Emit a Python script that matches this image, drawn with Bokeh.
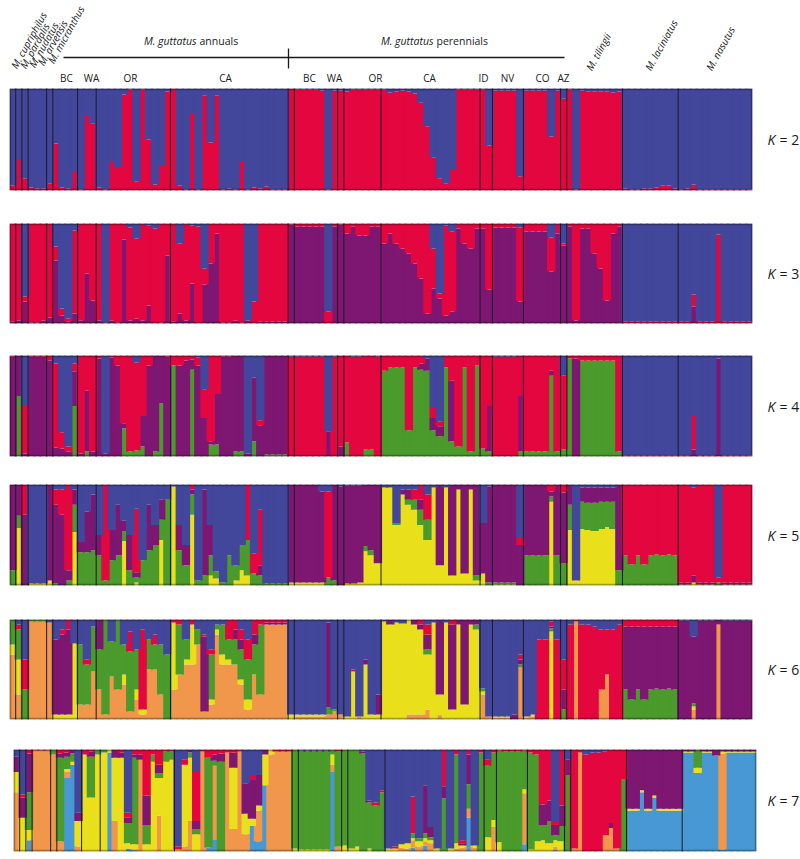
from bokeh.plotting import figure
from bokeh.models import Range1d, ColumnDataSource, BoxAnnotation
from bokeh.layouts import column, row
from bokeh.embed import file_html
from bokeh.resources import INLINE
from bokeh.core.properties import value
import math

# ---------------- data ----------------
GROUP_NAMES = ["M. cupriphilus", "M. pardalis", "M. nudatus", "M. arvensis", "M. micranthus",
               "BC-a", "WA-a", "OR-a", "CA-a", "X", "BC-p", "WA-p", "OR-p", "CA-p", "ID", "NV",
               "CO", "AZ", "M. tilingii", "M. laciniatus", "M. nasutus"]
GROUP_SIZES = [1, 1, 1, 3, 1, 4, 3, 12, 19, 1, 7, 1, 6, 16, 2, 5, 6, 1, 9, 9, 12]

TOP_SPECIES = ["M. cupriphilus", "M. pardalis", "M. nudatus", "M. arvensis", "M. micranthus",
               "M. tilingii", "M. laciniatus", "M. nasutus"]
REGION_LABELS = ["BC", "WA", "OR", "CA", "BC", "WA", "OR", "CA", "ID", "NV", "CO", "AZ"]

# K = 2 : red, blue (bottom -> top)
K2_red = [5,30,12, 3,2,2, 7, 46,3,2,19, 1,73,66,
 3,1,29,23,94,99,9,99,50,6,25,97,
 100,5,1,76,1,93,47,93,1,2,1,29,1,3,2,4,1,1,1,
 100,
 99,99,99,99,98,1,98,
 98,
 97,99,99,99,99,99,
 99,96,97,98,97,95,86,63,32,12,7,20,99,99,99,99,
 99,44,
 98,98,98,98,14,
 98,98,98,98,53,98,
 90,
 99,1,98,97,97,97,97,96,97,
 2,1,1,2,2,3,5,5,2,
 1,2,6,1,1,1,1,1,1,1,1,1]
K2_blue = [95,70,88, 97,98,98, 93, 54,97,98,81, 99,27,34,
 97,99,71,77,6,1,91,1,50,94,75,3,
 0,95,99,24,99,7,53,7,99,98,99,71,99,97,98,96,99,99,99,
 0,
 1,1,1,1,2,99,2,
 2,
 3,1,1,1,1,1,
 1,4,3,2,3,5,14,37,68,88,93,80,1,1,1,1,
 1,56,
 2,2,2,2,86,
 2,2,2,2,47,2,
 10,
 1,99,2,3,3,3,3,4,3,
 98,99,99,98,98,97,95,95,98,
 99,98,94,99,99,99,99,99,99,99,99,99]

# K = 3 : purple, red, blue
K3_purple = [2,3,22, 1,1,3, 6, 63,8,2,10, 3,50,23,
 3,1,3,1,84,3,5,3,18,0,1,68,
 2,10,3,40,0,39,60,90,1,1,3,1,3,0,2,2,2,2,2,
 99,
 97,97,97,97,97,0,97,
 99,
 90,97,88,88,97,97,
 80,90,80,75,70,60,45,10,35,25,8,12,95,80,75,95,
 95,34,
 96,96,96,96,22,
 92,92,92,92,52,90,
 78,
 97,3,95,95,70,55,23,90,97,
 0,0,0,0,0,0,0,0,0,
 0,0,17,0,0,0,0,0,0,0,0,0]
K3_red = [98,97,5, 99,99,97, 94, 14,7,3,83, 97,50,77,
 97,0,97,99,16,93,80,97,80,95,99,32,
 98,70,97,58,97,16,40,10,99,99,97,99,0,22,98,98,98,98,98,
 1,
 3,3,3,3,3,12,3,
 1,
 10,3,12,12,3,3,
 20,10,20,25,30,40,55,90,40,5,90,80,5,20,25,5,
 5,66,
 4,4,4,4,74,
 8,8,8,8,34,10,
 2,
 3,97,5,5,30,45,77,10,3,
 2,2,2,2,2,2,2,2,2,
 2,2,12,2,2,2,89,2,2,2,2,2]
K3_blue = [0,0,73, 0,0,0, 0, 23,85,95,7, 0,0,0,
 0,99,0,0,0,4,15,0,2,5,0,0,
 0,20,0,2,3,45,0,0,0,0,0,0,97,78,0,0,0,0,0,
 0,
 0,0,0,0,0,88,0,
 0,
 0,0,0,0,0,0,
 0,0,0,0,0,0,0,0,25,70,2,8,0,0,0,0,
 0,0,
 0,0,0,0,4,
 0,0,0,0,14,0,
 20,
 0,0,0,0,0,0,0,0,0,
 98,98,98,98,98,98,98,98,98,
 98,98,71,98,98,98,11,98,98,98,98,98]

# K = 4 : green, purple, red, blue
K4_green = [0,60,0, 0,0,0, 0, 0,0,0,50, 0,5,0,
 0,0,0,0,28,5,6,10,0,5,53,0,
 90,0,0,86,0,0,12,12,0,0,5,5,0,15,0,2,2,2,2,
 0,
 0,0,0,0,0,0,0,
 0,
 14,0,0,7,7,0,
 85,88,88,88,26,88,86,85,26,20,88,15,10,88,5,90,
 8,5,
 0,0,0,0,5,
 5,5,5,5,80,5,
 7,
 97,0,95,95,95,95,95,95,5,
 0,0,0,0,0,0,0,0,0,
 0,0,0,0,0,0,0,0,0,0,0,0]
K4_purple = [99,40,3, 99,99,99, 95, 9,8,5,34, 3,60,5,
 97,3,98,90,5,0,0,30,90,95,47,99,
 0,90,95,10,90,38,3,50,99,99,95,95,3,63,31,98,98,98,98,
 0,
 0,0,0,0,0,25,0,
 10,
 0,0,0,0,0,0,
 0,0,0,0,0,0,6,12,12,10,0,60,0,0,0,0,
 0,45,
 0,0,0,0,55,
 0,0,0,0,5,0,
 0,
 0,97,0,0,0,0,0,0,0,
 0,0,0,0,0,0,0,0,0,
 0,0,7,0,0,0,97,0,0,0,0,0]
K4_red = [1,0,47, 1,1,1, 5, 83,16,5,8, 97,35,95,
 3,0,2,10,67,95,87,60,10,0,0,1,
 10,10,5,4,8,28,85,38,1,1,0,0,0,0,5,0,0,0,0,
 99,
 99,99,99,99,99,0,99,
 90,
 86,99,99,93,93,99,
 15,12,12,12,74,12,8,0,10,5,12,25,90,12,95,10,
 92,50,
 99,99,99,99,40,
 95,95,95,95,15,95,
 73,
 3,3,5,5,5,5,5,5,95,
 1,1,1,1,1,1,1,1,1,
 1,1,33,1,1,1,0,1,1,1,1,1]
K4_blue = [0,0,50, 0,0,0, 0, 8,76,90,8, 0,0,0,
 0,97,0,0,0,0,7,0,0,0,0,0,
 0,0,0,0,2,34,0,0,0,0,0,0,97,22,64,0,0,0,0,
 1,
 1,1,1,1,1,75,1,
 0,
 0,1,1,0,0,1,
 0,0,0,0,0,0,0,3,52,65,0,0,0,0,0,0,
 0,0,
 1,1,1,1,0,
 0,0,0,0,0,0,
 20,
 0,0,0,0,0,0,0,0,0,
 99,99,99,99,99,99,99,99,99,
 99,99,60,99,99,99,3,99,99,99,99,99]

# K = 5 : yellow, green, purple, red, blue
K5_yellow = [0,57,0, 2,2,2, 5, 0,0,0,53, 0,0,0,
 0,0,0,0,44,0,3,0,0,0,45,0,
 98,0,0,70,0,0,10,7,0,0,5,15,10,0,0,0,0,0,0,
 3,
 3,3,3,3,3,0,0,
 0,
 2,2,3,34,30,22,
 97,97,60,90,80,75,60,45,97,20,97,10,95,12,95,5,
 12,0,
 1,1,1,1,0,
 0,0,0,0,83,0,
 0,
 55,5,56,55,54,56,58,56,0,
 0,0,0,0,0,0,0,0,0,
 1,1,3,1,1,1,0,1,1,1,1,1]
K5_green = [15,12,0, 0,0,0, 0, 2,0,5,27, 33,33,35,
 30,5,25,30,10,15,5,25,35,40,20,85,
 0,35,20,20,5,10,20,7,3,30,15,25,35,12,10,2,2,2,2,
 0,
 0,0,0,0,0,8,5,
 0,
 0,0,0,5,5,0,
 0,0,2,0,5,10,15,20,0,0,0,0,0,0,0,5,
 0,3,
 2,2,2,2,0,
 30,30,30,30,5,30,
 22,
 25,0,27,27,28,27,25,27,15,
 30,21,30,21,30,31,30,31,30,
 0,0,0,0,0,0,3,0,0,0,0,0]
K5_purple = [85,31,70, 0,0,0, 95, 78,70,10,15, 10,40,55,
 20,0,30,50,10,35,5,0,45,20,20,0,
 0,25,20,5,0,85,30,0,0,0,0,0,0,0,10,0,0,0,0,
 97,
 97,97,97,97,90,0,95,
 98,
 97,97,96,61,65,78,
 0,0,0,5,10,0,10,0,0,80,0,90,5,88,5,90,
 50,95,
 97,97,97,98,40,
 70,70,70,70,5,70,
 70,
 20,0,14,15,15,14,14,14,85,
 0,0,0,0,0,0,0,0,0,
 2,2,7,2,2,2,0,2,2,2,2,2]
K5_red = [0,0,30, 0,0,0, 0, 15,25,85,0, 0,0,0,
 0,95,0,0,0,0,63,0,0,0,0,0,
 0,0,0,5,0,0,0,0,0,0,0,0,55,20,55,0,0,0,0,
 0,
 0,0,0,0,0,85,0,
 0,
 0,0,0,0,0,0,
 0,0,0,0,0,10,15,25,0,0,0,0,0,0,0,0,
 0,0,
 0,0,0,0,8,
 0,0,0,0,7,0,
 8,
 0,0,0,0,0,0,0,0,0,
 70,79,70,79,70,69,70,69,70,
 97,97,87,97,97,97,5,97,97,97,97,97]
K5_blue = [0,0,0, 98,98,98, 0, 5,5,0,5, 57,27,10,
 50,0,45,20,36,50,24,75,20,40,15,15,
 2,40,60,0,95,5,40,86,97,70,80,60,0,68,25,98,98,98,98,
 0,
 0,0,0,0,7,7,0,
 2,
 1,1,1,0,0,0,
 3,3,38,5,5,5,0,10,3,0,3,0,0,0,0,0,
 38,2,
 0,0,0,0,52,
 0,0,0,0,0,0,
 0,
 0,95,3,3,3,3,3,3,0,
 0,0,0,0,0,0,0,0,0,
 0,0,3,0,0,0,92,0,0,0,0,0]

# K = 6 : orange, yellow, green, purple, red, blue
K6_orange = [65,25,0, 98,98,98, 97, 0,0,0,0, 15,15,48,
 30,5,43,30,35,8,20,5,50,50,25,0,
 30,45,55,55,75,8,15,85,55,55,55,35,10,45,25,95,95,95,95,
 0,
 3,3,3,3,3,5,8,
 5,
 0,0,3,0,0,0,
 0,0,0,0,5,5,5,10,0,5,0,0,0,0,0,0,
 25,3,
 2,2,2,0,52,
 2,3,0,0,0,0,
 0,
 0,98,0,0,0,30,45,0,0,
 0,0,0,0,0,0,0,0,0,
 0,0,10,0,0,0,95,0,0,0,0,0]
K6_yellow = [10,35,0, 0,0,0, 0, 5,5,5,76, 0,0,0,
 0,0,0,0,10,0,10,5,0,0,0,0,
 67,0,5,40,0,0,5,5,10,5,0,5,10,0,0,0,0,0,0,
 5,
 2,2,2,2,2,0,0,
 0,
 3,48,0,55,5,5,
 98,95,97,96,95,90,85,55,97,20,97,10,95,15,95,90,
 3,0,
 1,1,1,0,0,
 1,2,0,0,88,0,
 0,
 0,0,0,0,0,0,0,0,0,
 0,0,0,0,0,0,0,0,0,
 0,0,3,0,0,0,0,0,0,0,0,0]
K6_green = [25,30,30, 2,2,2, 0, 0,0,0,0, 60,40,45,
 40,95,35,70,30,60,40,0,30,25,50,65,
 0,50,20,0,15,0,45,5,30,20,25,30,40,30,70,0,0,0,0,
 0,
 0,0,0,0,0,7,2,
 0,
 0,0,0,0,0,0,
 0,0,0,0,0,0,0,5,0,0,0,0,0,0,0,5,
 3,0,
 0,0,0,0,3,
 0,0,0,0,3,0,
 10,
 0,0,0,0,0,0,0,0,0,
 30,20,30,20,30,31,30,31,30,
 0,0,3,0,0,0,0,0,0,0,0,0]
K6_purple = [0,0,0, 0,0,0, 0, 75,80,85,0, 0,0,0,
 30,0,0,0,0,0,0,0,0,0,0,0,
 0,0,0,0,0,75,0,0,0,0,10,10,0,10,0,2,2,2,2,
 0,
 0,0,0,0,0,85,0,
 0,
 0,0,0,5,0,20,
 0,5,0,0,0,5,5,15,0,75,0,85,5,85,5,5,
 0,0,
 0,0,0,5,5,
 0,0,0,0,2,0,
 20,
 0,0,0,0,0,0,0,0,0,
 63,73,63,73,63,62,63,62,63,
 99,99,67,99,99,99,5,99,99,99,99,99]
K6_red = [0,5,30, 0,0,0, 0, 0,5,10,0, 0,5,0,
 0,0,0,0,0,20,0,80,0,10,0,0,
 3,5,0,5,0,2,5,0,0,20,10,10,20,15,5,3,3,3,3,
 0,
 0,0,0,0,0,0,0,
 0,
 0,2,0,0,0,0,
 0,0,0,0,0,0,5,10,0,0,0,5,0,0,0,0,
 0,0,
 0,0,0,0,5,
 0,0,80,80,5,80,
 30,
 95,2,95,95,93,60,45,90,95,
 7,7,7,7,7,7,7,7,7,
 0,0,0,0,0,0,0,0,0,0,0,0]
K6_blue = [0,5,40, 0,0,0, 3, 20,10,0,24, 25,40,7,
 0,0,22,0,25,12,30,10,20,15,25,35,
 0,0,20,0,10,15,30,5,5,0,0,10,20,0,0,0,0,0,0,
 95,
 95,95,95,95,95,3,90,
 95,
 97,50,97,40,95,75,
 2,0,3,4,0,0,0,5,3,0,3,0,0,0,0,0,
 69,97,
 97,97,97,95,35,
 97,95,20,20,2,20,
 40,
 5,0,5,5,7,10,10,10,5,
 0,0,0,0,0,0,0,0,0,
 1,1,17,1,1,1,0,1,1,1,1,1]

# K = 7 : light blue, orange, yellow, green, purple, red, blue
K7_lightblue = [0,0,11, 0,0,0, 0, 0,72,85,0, 0,0,0,
 0,97,0,0,3,2,0,0,0,0,0,0,
 0,0,0,0,0,4,12,0,0,0,0,0,25,10,65,0,0,0,0,
 0,
 0,0,0,0,0,78,0,
 0,
 0,0,0,0,0,0,
 0,0,0,0,4,0,6,0,0,0,0,0,0,33,0,0,
 0,0,
 0,0,0,0,7,
 0,0,0,0,2,0,
 0,
 0,0,0,0,0,0,0,0,0,
 40,40,58,40,53,40,40,40,40,
 97,97,77,97,97,94,2,97,97,97,97,97]
K7_orange = [58,0,0, 99,99,99, 95, 10,6,0,5, 0,0,0,
 0,0,30,0,0,0,90,0,0,35,0,0,
 0,5,30,0,98,0,72,0,97,22,98,17,0,30,0,95,98,98,98,
 0,
 0,0,0,0,0,7,5,
 0,
 0,0,0,0,0,0,
 0,0,4,3,7,5,4,8,0,0,0,3,4,9,4,0,
 0,24,
 0,0,0,0,50,
 0,0,0,0,3,0,
 0,
 3,97,0,0,0,16,23,3,0,
 0,0,0,0,0,0,0,0,0,
 0,0,0,0,0,0,94,0,0,0,0,0]
K7_yellow = [20,33,10, 0,0,0, 0, 0,3,3,25, 95,53,95,
 97,3,62,92,5,5,0,7,88,37,88,90,
 2,80,62,17,0,0,0,0,0,60,0,20,7,5,30,5,0,0,0,
 3,
 2,2,2,2,2,10,0,
 6,
 3,5,0,3,0,0,
 3,3,3,5,2,5,3,3,3,0,3,5,2,0,2,0,
 14,7,
 9,0,0,0,4,
 2,10,11,8,6,10,
 0,
 0,0,0,0,0,0,0,0,0,
 2,2,2,2,2,2,2,2,2,
 1,1,5,1,1,0,2,1,1,1,1,1]
K7_green = [0,0,37, 0,0,0, 5, 82,12,8,0, 0,40,5,
 3,0,0,0,20,85,0,19,7,5,10,8,
 0,0,5,5,0,88,5,88,0,0,0,0,0,0,0,0,0,0,0,
 97,
 96,96,96,96,96,5,93,
 94,
 97,95,96,45,45,58,
 0,0,0,0,5,3,5,3,0,52,0,87,0,24,0,97,
 70,66,
 90,98,98,98,38,
 95,85,15,22,5,15,
 75,
 0,0,0,0,0,0,0,0,71,
 0,0,0,0,0,0,0,0,0,
 0,0,18,0,0,0,0,0,0,0,0,0]
K7_purple = [15,20,38, 0,0,0, 0, 4,4,4,8, 0,5,0,
 0,0,8,5,5,3,5,29,0,8,0,0,
 0,0,3,8,0,0,6,8,0,15,0,30,38,30,5,0,0,0,0,
 0,
 1,1,1,1,1,0,0,
 0,
 0,0,2,2,0,0,
 0,0,0,0,0,0,47,10,0,12,0,0,2,29,0,0,
 0,0,
 0,0,0,0,0,
 0,0,20,20,10,20,
 15,
 0,0,0,0,0,0,5,0,0,
 58,58,40,58,45,58,58,58,58,
 2,2,0,2,2,6,2,2,2,2,2,2]
K7_red = [0,3,4, 1,1,1, 0, 4,3,0,0, 5,2,0,
 0,0,0,3,5,5,5,45,5,15,2,2,
 3,5,0,48,2,8,5,4,3,3,2,0,4,0,0,0,2,2,2,
 0,
 0,0,0,0,0,0,2,
 0,
 0,0,0,0,3,2,
 0,2,0,0,36,0,0,0,0,36,0,5,3,5,0,3,
 6,3,
 1,2,2,2,1,
 3,5,54,50,4,55,
 0,
 97,3,95,97,97,82,72,97,29,
 0,0,0,0,0,0,0,0,0,
 0,0,0,0,0,0,0,0,0,0,0,0]
K7_blue = [7,44,0, 0,0,0, 0, 0,0,0,62, 0,0,0,
 0,0,0,0,62,0,0,0,0,0,0,0,
 95,10,0,22,0,0,0,0,0,0,0,33,26,25,0,0,0,0,0,
 0,
 1,1,1,1,1,0,0,
 0,
 0,0,2,50,52,40,
 97,95,93,92,46,87,35,76,97,0,97,0,89,0,94,0,
 10,0,
 0,0,0,0,0,
 0,0,0,0,70,0,
 10,
 0,0,5,3,3,2,0,0,0,
 0,0,0,0,0,0,0,0,0,
 0,0,0,0,0,0,0,0,0,0,0,0]

# ---------------- style ----------------
BLUE = "#42479b"
RED = "#e4073f"
PURPLE = "#7e1772"
GREEN = "#4a9a2c"
YELLOW = "#e9e01b"
ORANGE = "#f0974b"
LBLUE = "#4898d4"
INK = "#1a1a1a"
FONT = "Open Sans"

N = sum(GROUP_SIZES)
for nm, arr in list(globals().items()):
    if nm.startswith("K") and nm[1:2].isdigit() and isinstance(arr, list):
        if len(arr) != N:
            raise ValueError("%s has %d values" % (nm, len(arr)))

PANELS = [
    (2, [K2_red, K2_blue], [RED, BLUE]),
    (3, [K3_purple, K3_red, K3_blue], [PURPLE, RED, BLUE]),
    (4, [K4_green, K4_purple, K4_red, K4_blue], [GREEN, PURPLE, RED, BLUE]),
    (5, [K5_yellow, K5_green, K5_purple, K5_red, K5_blue], [YELLOW, GREEN, PURPLE, RED, BLUE]),
    (6, [K6_orange, K6_yellow, K6_green, K6_purple, K6_red, K6_blue],
        [ORANGE, YELLOW, GREEN, PURPLE, RED, BLUE]),
    (7, [K7_lightblue, K7_orange, K7_yellow, K7_green, K7_purple, K7_red, K7_blue],
        [LBLUE, ORANGE, YELLOW, GREEN, PURPLE, RED, BLUE]),
]
# layout: (pad top, frame height, pad bottom, pad left)
LAYOUT = {2: (2, 102, 31, 9), 3: (2, 100, 30, 9), 4: (2, 101, 26, 9),
          5: (2, 101, 32, 9), 6: (2, 100, 28, 9), 7: (2, 102, 6, 13)}
PANEL_W = 760
LABEL_W = 40
FRAME_W = 743

# ---------------- header ----------------
header = figure(width=800, height=86, x_range=Range1d(0, 800), y_range=Range1d(86, 0),
                x_axis_type=None, y_axis_type=None, output_backend="svg",
                toolbar_location=None, min_border=0)
header.outline_line_color = None

sp_x = [13, 22, 31, 40, 50, 588, 647, 708]
sp_y = [67, 67, 66, 64, 62, 69, 69, 69]
header.text(x=sp_x, y=sp_y, text=TOP_SPECIES, angle=math.radians(61),
            text_font=value(FONT), text_font_size="10px", text_font_style="italic",
            text_align="left", text_baseline="alphabetic", text_color=INK)

header.text(x=[196, 433], y=[40, 40], text=["M. guttatus", "M. guttatus"],
            text_font=value(FONT), text_font_size="10.5px", text_font_style="italic",
            text_align="right", text_baseline="middle", text_color=INK)
header.text(x=[199, 436], y=[40, 40], text=["annuals", "perennials"],
            text_font=value(FONT), text_font_size="10.5px",
            text_align="left", text_baseline="middle", text_color=INK)
header.line(x=[63, 564], y=[57, 57], line_color=INK, line_width=1.3)
header.line(x=[288, 288], y=[48, 68], line_color=INK, line_width=1.3)

reg_x = [66, 91, 130, 225, 309, 334, 375, 429, 483, 507, 542, 563]
header.text(x=reg_x, y=[77] * len(reg_x), text=REGION_LABELS,
            text_font=value(FONT), text_font_size="10px",
            text_align="center", text_baseline="middle", text_color=INK)

# ---------------- panels ----------------
bounds = []
acc = 0
for s in GROUP_SIZES[:-1]:
    acc += s
    bounds.append(acc)

rows = [header]
for K, series, cols in PANELS:
    pt, fh, pb, pl = LAYOUT[K]
    h = pt + fh + pb
    p = figure(width=PANEL_W, height=h, x_range=Range1d(0, N), y_range=Range1d(0, 1),
               x_axis_type=None, y_axis_type=None, output_backend="svg",
               toolbar_location=None, min_border_left=pl,
               min_border_right=PANEL_W - pl - FRAME_W, min_border_top=pt,
               min_border_bottom=pb)
    p.outline_line_color = None
    data = {"x": [i + 0.5 for i in range(N)]}
    names = ["c%d" % k for k in range(len(series))]
    for i in range(N):
        tot = sum(arr[i] for arr in series) or 1
        for k, arr in enumerate(series):
            data.setdefault(names[k], []).append(arr[i] / tot)
    src = ColumnDataSource(data)
    # bars slightly wider than their slot so neighbours leave no anti-aliasing seams
    p.vbar_stack(names, x="x", width=1.35, fill_color=cols, line_color=None, source=src)
    p.segment(x0=bounds, y0=[0] * len(bounds), x1=bounds, y1=[1] * len(bounds),
              line_color="#1c1c2a", line_width=1.0)
    p.add_layout(BoxAnnotation(left=0, right=N, bottom=0, top=1, fill_alpha=0,
                               line_color="black", line_width=3.5, level="overlay"))

    lab = figure(width=LABEL_W, height=h, x_range=Range1d(PANEL_W, PANEL_W + LABEL_W),
                 y_range=Range1d(0, 1), x_axis_type=None, y_axis_type=None,
                 output_backend="svg", toolbar_location=None, min_border_left=0,
                 min_border_right=0, min_border_top=pt, min_border_bottom=pb)
    lab.outline_line_color = None
    lab.text(x=[767], y=[0.5], text=["K"], text_font=value(FONT), text_font_size="14px",
             text_font_style="italic", text_align="left", text_baseline="middle",
             text_color=INK)
    lab.text(x=[779], y=[0.5], text=["= %d" % K], text_font=value(FONT),
             text_font_size="14px", text_align="left", text_baseline="middle",
             text_color=INK)
    rows.append(row(p, lab, spacing=0))

layout = column(*rows, spacing=0)
open("out.html", "w").write(file_html(layout, INLINE))
